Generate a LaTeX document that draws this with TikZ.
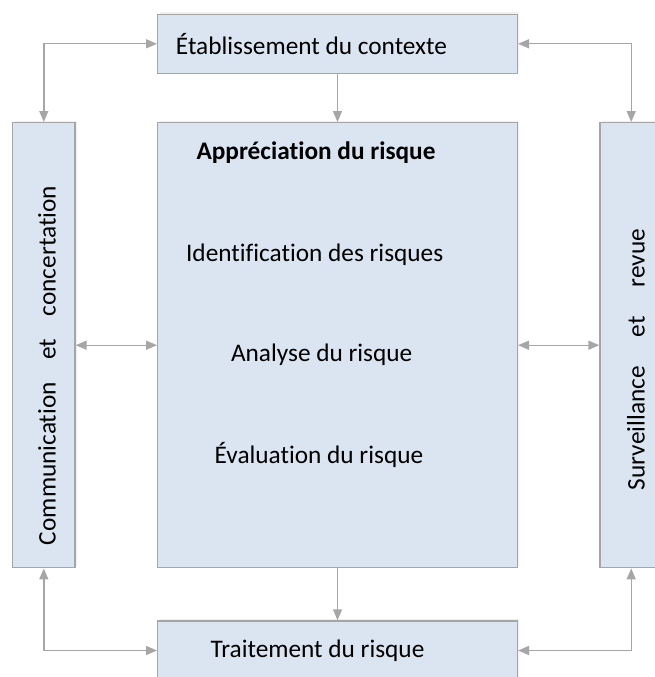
\documentclass[tikz,border=0pt]{standalone}
\usepackage{fontspec}
\setmainfont[Ligatures=NoCommon]{Carlito}
\usepackage{tikz}
\usetikzlibrary{arrows.meta,shadows}

\definecolor{boxfill}{RGB}{218,229,241}
\definecolor{boxline}{RGB}{166,166,166}
\definecolor{arrline}{RGB}{166,166,166}

\tikzset{
  boxshape/.style={draw=boxline, fill=boxfill, line width=1.4pt, inner sep=0pt,
    drop shadow={opacity=0.12, shadow xshift=2pt, shadow yshift=2pt}},
  arr/.style={draw=arrline, line width=1.4pt, -{Triangle[length=11pt,width=9pt]}},
  darr/.style={draw=arrline, line width=1.4pt, {Triangle[length=11pt,width=9pt]}-{Triangle[length=11pt,width=9pt]}},
  txt/.style={inner sep=0pt, font=\fontsize{25.3}{30}\selectfont}
}

\begin{document}
\begin{tikzpicture}[x=1pt,y=1pt,yscale=-1,xscale=1]
\useasboundingbox (0,0) rectangle (654,677);

%Shape: Rectangle
\node [boxshape, minimum width=359.6pt, minimum height=59pt] (etab) at (337.5,43.8) {};
%Shape: Rectangle
\node [boxshape, minimum width=359.6pt, minimum height=445pt] (appr) at (337.5,345.2) {};
%Shape: Rectangle
\node [boxshape, minimum width=62.3pt, minimum height=445pt] (comm) at (43.8,345.2) {};
%Shape: Rectangle
\node [boxshape, minimum width=62.3pt, minimum height=445pt] (surv) at (631.2,345.2) {};
%Shape: Rectangle
\node [boxshape, minimum width=359.6pt, minimum height=59pt] (trait) at (337.5,650.5) {};

%Straight Lines
\draw [darr] (etab.west) -| (comm.north);
\draw [darr] (etab.east) -| (surv.north);
\draw [arr] (etab.south) -- (appr.north);
\draw [darr] (comm.east) -- (appr.west);
\draw [darr] (appr.east) -- (surv.west);
\draw [arr] (appr.south) -- (trait.north);
\draw [darr] (comm.south) |- (trait.west);
\draw [darr] (surv.south) |- (trait.east);

% Text Node
\node [txt] (tetab) at (311.5,43.8) {Établissement du contexte};
% Text Node
\node [txt, font=\fontsize{25.3}{30}\selectfont\bfseries] (tappr) at (316,153) {Appréciation du risque};
% Text Node
\node [txt] (tident) at (314.7,255) {Identification des risques};
% Text Node
\node [txt] (tanal) at (321.7,355) {Analyse du risque};
% Text Node
\node [txt] (teval) at (319,455) {Évaluation du risque};
% Text Node
\node [txt] (ttrait) at (317.5,651) {Traitement du risque};
% Text Node
\node [txt, rotate=90] (tcomm) at (47,365.5) {\hbox to 359pt{Communication\hfill et\hfill concertation}};
% Text Node
\node [txt, rotate=90] (tsurv) at (636,359.5) {\hbox to 261pt{Surveillance\hfill et\hfill revue}};

\end{tikzpicture}
\end{document}
